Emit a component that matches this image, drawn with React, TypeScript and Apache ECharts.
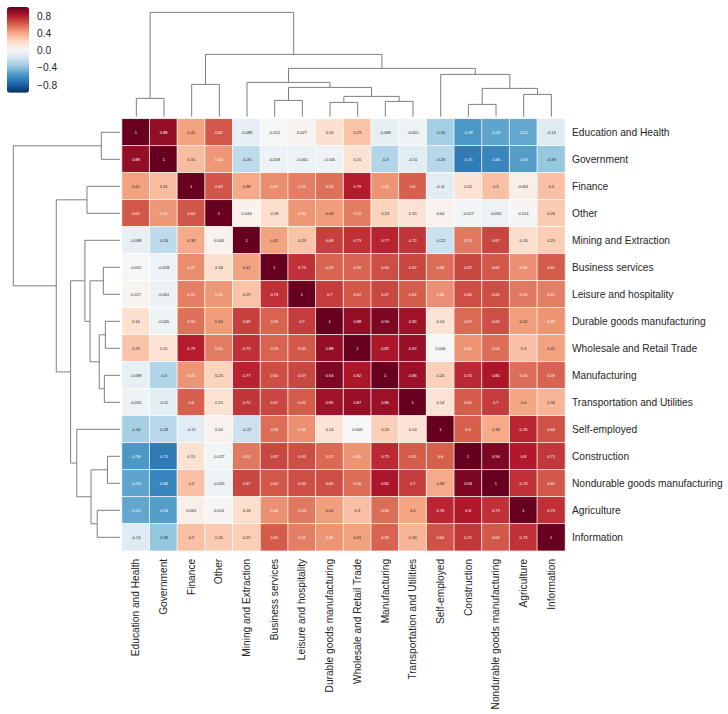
import React, { useEffect, useRef } from "react";
import * as echarts from "echarts";

const labels = [
  "Education and Health", "Government", "Finance", "Other", "Mining and Extraction",
  "Business services", "Leisure and hospitality", "Durable goods manufacturing",
  "Wholesale and Retail Trade", "Manufacturing", "Transportation and Utilities",
  "Self-employed", "Construction", "Nondurable goods manufacturing", "Agriculture", "Information",
];

const matrix = [
  [1, 0.88, 0.41, 0.62, -0.088, -0.012, 0.027, 0.16, 0.29, -0.088, -0.055, -0.34, -0.58, -0.53, -0.52, -0.13],
  [0.88, 1, 0.31, 0.44, -0.26, -0.058, -0.061, -0.045, 0.15, -0.3, -0.11, -0.28, -0.71, -0.66, -0.56, -0.39],
  [0.41, 0.31, 1, 0.63, 0.38, 0.47, 0.51, 0.55, 0.79, 0.45, 0.6, -0.11, 0.15, 0.3, 0.061, 0.3],
  [0.62, 0.44, 0.63, 1, 0.044, 0.18, 0.44, 0.43, 0.52, 0.23, 0.15, 0.04, -0.027, -0.055, 0.014, 0.26],
  [-0.088, -0.26, 0.38, 0.044, 1, 0.41, 0.29, 0.69, 0.73, 0.77, 0.72, -0.22, 0.53, 0.67, 0.18, 0.25],
  [-0.012, -0.058, 0.47, 0.18, 0.41, 1, 0.73, 0.59, 0.59, 0.65, 0.67, 0.56, 0.67, 0.62, 0.46, 0.61],
  [0.027, -0.061, 0.51, 0.44, 0.29, 0.73, 1, 0.7, 0.62, 0.67, 0.61, 0.46, 0.65, 0.65, 0.53, 0.51],
  [0.16, -0.045, 0.55, 0.43, 0.69, 0.59, 0.7, 1, 0.88, 0.94, 0.85, 0.14, 0.57, 0.65, 0.42, 0.45],
  [0.29, 0.15, 0.79, 0.52, 0.73, 0.59, 0.62, 0.88, 1, 0.82, 0.87, 0.006, 0.45, 0.56, 0.3, 0.41],
  [-0.088, -0.3, 0.45, 0.23, 0.77, 0.65, 0.67, 0.94, 0.82, 1, 0.86, 0.24, 0.75, 0.82, 0.56, 0.59],
  [-0.055, -0.11, 0.6, 0.15, 0.72, 0.67, 0.61, 0.85, 0.87, 0.86, 1, 0.14, 0.61, 0.7, 0.4, 0.34],
  [-0.34, -0.28, -0.11, 0.04, -0.22, 0.56, 0.46, 0.14, 0.006, 0.24, 0.14, 1, 0.6, 0.38, 0.76, 0.64],
  [-0.58, -0.71, 0.15, -0.027, 0.53, 0.67, 0.65, 0.57, 0.45, 0.75, 0.61, 0.6, 1, 0.94, 0.8, 0.71],
  [-0.53, -0.66, 0.3, -0.055, 0.67, 0.62, 0.65, 0.65, 0.56, 0.82, 0.7, 0.38, 0.94, 1, 0.73, 0.62],
  [-0.52, -0.56, 0.061, 0.014, 0.18, 0.46, 0.53, 0.42, 0.3, 0.56, 0.4, 0.76, 0.8, 0.73, 1, 0.73],
  [-0.13, -0.39, 0.3, 0.26, 0.25, 0.61, 0.51, 0.45, 0.41, 0.59, 0.34, 0.64, 0.71, 0.62, 0.73, 1],
];

// Linkage: [child a, child b, height]; ids below 16 are leaves, 16+k is merge k.
const linkage: [number, number, number][] = [
  [0, 1, 18.3], [2, 3, 32.3], [5, 6, 16.3], [7, 8, 14.3], [9, 10, 15.3],
  [19, 20, 20.3], [18, 21, 29.3], [4, 22, 34.3], [12, 13, 12.3], [14, 15, 22.3],
  [24, 25, 28.3], [11, 26, 42.3], [23, 27, 48.3], [17, 28, 62.3], [16, 29, 104.3],
];

const colorbarTicks = [-0.8, -0.4, 0, 0.4, 0.8];
const rdBuR = [
  "#053061", "#2166ac", "#4393c3", "#92c5de", "#d1e5f0", "#f7f7f7",
  "#fddbc7", "#f4a582", "#d6604d", "#b2182b", "#67001f",
];

const FONT = "Liberation Sans";
const TEXT = "#262626";
const LABEL_SIZE = 10.2;

function buildLinks() {
  const pos: number[] = labels.map((_, i) => i + 0.5);
  const hgt: number[] = labels.map(() => 0);
  return linkage.map(([a, b, h]) => {
    const row = [pos[a], pos[b], hgt[a], hgt[b], h];
    pos.push((pos[a] + pos[b]) / 2);
    hgt.push(h);
    return row;
  });
}

function dendroItem(horizontal: boolean) {
  return (_p: any, api: any) => {
    const [x1, x2, b1, b2, h] = [0, 1, 2, 3, 4].map((i) => api.value(i) as number);
    const raw = [[x1, b1], [x1, h], [x2, h], [x2, b2]];
    const points = raw.map(([p, v]) => api.coord(horizontal ? [p, v] : [v, p]));
    return {
      type: "polyline",
      shape: { points },
      style: { stroke: "#7f7f7f", fill: "none", lineWidth: 1 },
    };
  };
}

export default function App() {
  const ref = useRef<HTMLDivElement>(null);
  useEffect(() => {
    const chart = echarts.init(ref.current!, undefined, { renderer: "svg" });
    const links = buildLinks();
    const heatData = matrix.flatMap((row, y) =>
      row.map((v, x) => ({
        value: [x, y, v],
        label: { color: Math.abs(v) >= 0.44 ? "#ffffff" : TEXT },
      }))
    );
    const hidden = { show: false };
    chart.setOption({
      animation: false,
      backgroundColor: "#ffffff",
      textStyle: { fontFamily: FONT },
      grid: [
        { left: 122, top: 118.8, width: 443, height: 432, outerBoundsMode: "none" },
        { left: 122.5, top: 6.7, width: 442.7, height: 110, outerBoundsMode: "none" },
        { left: 7.5, top: 118.8, width: 112.5, height: 432, outerBoundsMode: "none" },
        { left: 7, top: 8, width: 22, height: 85.7, outerBoundsMode: "none" },
      ],
      xAxis: [
        {
          type: "category", gridIndex: 0, data: labels, position: "bottom",
          axisLine: hidden, axisTick: hidden, splitLine: hidden,
          axisLabel: { interval: 0, rotate: 90, margin: 8, fontSize: LABEL_SIZE, color: TEXT, fontFamily: FONT },
        },
        { type: "value", gridIndex: 1, min: 0, max: 16, show: false },
        { type: "value", gridIndex: 2, min: 0, max: 110, inverse: true, show: false },
        { type: "value", gridIndex: 3, min: 0, max: 1, show: false },
      ],
      yAxis: [
        {
          type: "category", gridIndex: 0, data: labels, inverse: true, position: "right",
          axisLine: hidden, axisTick: hidden, splitLine: hidden,
          axisLabel: { interval: 0, margin: 7, fontSize: LABEL_SIZE, color: TEXT, fontFamily: FONT },
        },
        { type: "value", gridIndex: 1, min: 0, max: 110, show: false },
        { type: "value", gridIndex: 2, min: 0, max: 16, inverse: true, show: false },
        {
          type: "value", gridIndex: 3, min: -1, max: 1, position: "right",
          axisLine: hidden, axisTick: hidden, splitLine: hidden,
          axisLabel: {
            customValues: colorbarTicks, margin: 8, fontSize: LABEL_SIZE, color: TEXT, fontFamily: FONT,
            formatter: (v: number) => (v < 0 ? "\u2212" + Math.abs(v).toFixed(1) : v.toFixed(1)),
          },
        },
      ],
      visualMap: {
        type: "continuous", min: -1, max: 1, calculable: false, seriesIndex: 0, dimension: 2,
        left: 7, top: 7, itemWidth: 22, itemHeight: 85.7, padding: 0, text: ["", ""], showLabel: false,
        realtime: false, hoverLink: false, inRange: { color: rdBuR },
      },
      series: [
        {
          type: "heatmap", xAxisIndex: 0, yAxisIndex: 0, data: heatData, silent: true,
          itemStyle: { borderColor: "#ffffff", borderWidth: 0.75 },
          label: {
            show: true, fontSize: 4, fontFamily: FONT,
            formatter: (p: any) => String(p.value[2]),
          },
        },
        {
          type: "custom", xAxisIndex: 1, yAxisIndex: 1, data: links, silent: true,
          renderItem: dendroItem(true), clip: false,
        },
        {
          type: "custom", xAxisIndex: 2, yAxisIndex: 2, data: links, silent: true,
          renderItem: dendroItem(false), clip: false,
        },
      ],
    });
    return () => chart.dispose();
  }, []);
  return <div ref={ref} style={{ position: "absolute", left: 0, top: 0, width: 728, height: 714 }} />;
}
